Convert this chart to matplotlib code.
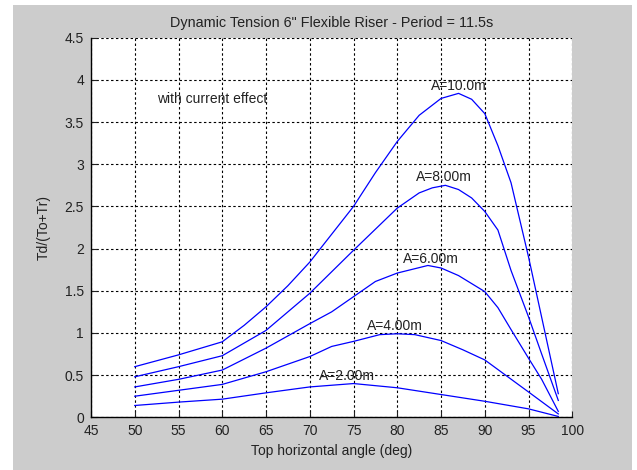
import matplotlib
matplotlib.use('Agg')
import matplotlib.pyplot as plt
from matplotlib.patches import Rectangle

# top horizontal angle (deg) and Td/(To+Tr) for each wave amplitude
ang_10 = [50, 55, 60, 62.5, 65, 67.5, 70, 75, 77.5, 80, 82.5, 85, 87, 88.5, 90, 91.5, 93, 95, 98.4]
td_10 = [0.60, 0.74, 0.895, 1.09, 1.31, 1.56, 1.84, 2.50, 2.90, 3.27, 3.58, 3.78, 3.84, 3.77, 3.60, 3.22, 2.78, 1.90, 0.28]

ang_8 = [50, 55, 60, 65, 70, 75, 80, 82.5, 84, 85.5, 87, 88.5, 90, 91.5, 93, 95, 96.5, 98.4]
td_8 = [0.48, 0.60, 0.73, 1.03, 1.47, 1.98, 2.48, 2.66, 2.72, 2.75, 2.70, 2.60, 2.44, 2.22, 1.74, 1.19, 0.75, 0.20]

ang_6 = [50, 55, 60, 65, 70, 72.5, 75, 77.5, 80, 83.5, 85, 87, 90, 91.5, 93, 95, 96.5, 98.4]
td_6 = [0.36, 0.45, 0.56, 0.82, 1.11, 1.25, 1.43, 1.61, 1.71, 1.80, 1.77, 1.68, 1.49, 1.30, 1.04, 0.70, 0.45, 0.07]

ang_4 = [50, 55, 60, 65, 70, 72.5, 75, 78, 80, 82, 85, 87.5, 90, 92.5, 95, 98.4]
td_4 = [0.25, 0.32, 0.39, 0.54, 0.72, 0.84, 0.90, 0.98, 0.99, 0.98, 0.91, 0.80, 0.68, 0.49, 0.30, 0.04]

ang_2 = [50, 55, 60, 65, 70, 75, 80, 85, 90, 95, 98.4]
td_2 = [0.14, 0.18, 0.215, 0.29, 0.36, 0.40, 0.35, 0.27, 0.19, 0.10, 0.01]

curves = [(ang_10, td_10), (ang_8, td_8), (ang_6, td_6), (ang_4, td_4), (ang_2, td_2)]

# curve labels and where they sit (data coords)
labels = ['A=10.0m', 'A=8.00m', 'A=6.00m', 'A=4.00m', 'A=2.00m']
label_x = [83.8, 82.1, 80.6, 76.5, 71.0]
label_y = [3.93, 2.85, 1.875, 1.08, 0.49]

xticks = [45, 50, 55, 60, 65, 70, 75, 80, 85, 90, 95, 100]
yticks = [0, 0.5, 1, 1.5, 2, 2.5, 3, 3.5, 4, 4.5]

plt.rcParams['font.family'] = ['Liberation Sans', 'DejaVu Sans']
plt.rcParams['font.size'] = 10


def main():
  fig = plt.figure(figsize=(6.37, 4.70), dpi=100, facecolor='white')
  # grey window area of the old matlab figure
  fig.patches.append(Rectangle((13 / 637, 0), 619 / 637, 465 / 470, transform=fig.transFigure,
                               facecolor='#cccccc', edgecolor='none', zorder=-1))
  ax = fig.add_axes([91 / 637, 52.7 / 470, 481.3 / 637, 379.6 / 470])
  ax.set_facecolor('white')

  for x, y in curves:
    ax.plot(x, y, color='#0000ff', linewidth=0.9)

  for lab, lx, ly in zip(labels, label_x, label_y):
    ax.text(lx, ly, lab, ha='left', va='center', color='#222222')
  ax.text(52.5, 3.775, 'with current effect', ha='left', va='center', color='#222222')

  ax.set_xlim(45, 100)
  ax.set_ylim(0, 4.5)
  ax.set_xticks(xticks)
  ax.set_yticks(yticks)
  ax.set_yticklabels(['0', '0.5', '1', '1.5', '2', '2.5', '3', '3.5', '4', '4.5'])
  ax.grid(True, color='black', linestyle=(0, (2.2, 2.2)), linewidth=0.8)
  ax.tick_params(direction='in', length=4, width=0.8, pad=5, colors='#222222')
  for side in ['top', 'right']:
    ax.spines[side].set_visible(False)
  for side in ['left', 'bottom']:
    ax.spines[side].set_linewidth(1.0)

  ax.set_title('Dynamic Tension 6" Flexible Riser - Period = 11.5s', pad=8, fontsize=10.4, color='#222222')
  ax.set_xlabel('Top horizontal angle (deg)', labelpad=4, color='#222222')
  ax.set_ylabel('Td/(To+Tr)', labelpad=10, color='#222222')

  fig.savefig('out.png', dpi=100, facecolor=fig.get_facecolor())


if __name__ == '__main__':
  main()
